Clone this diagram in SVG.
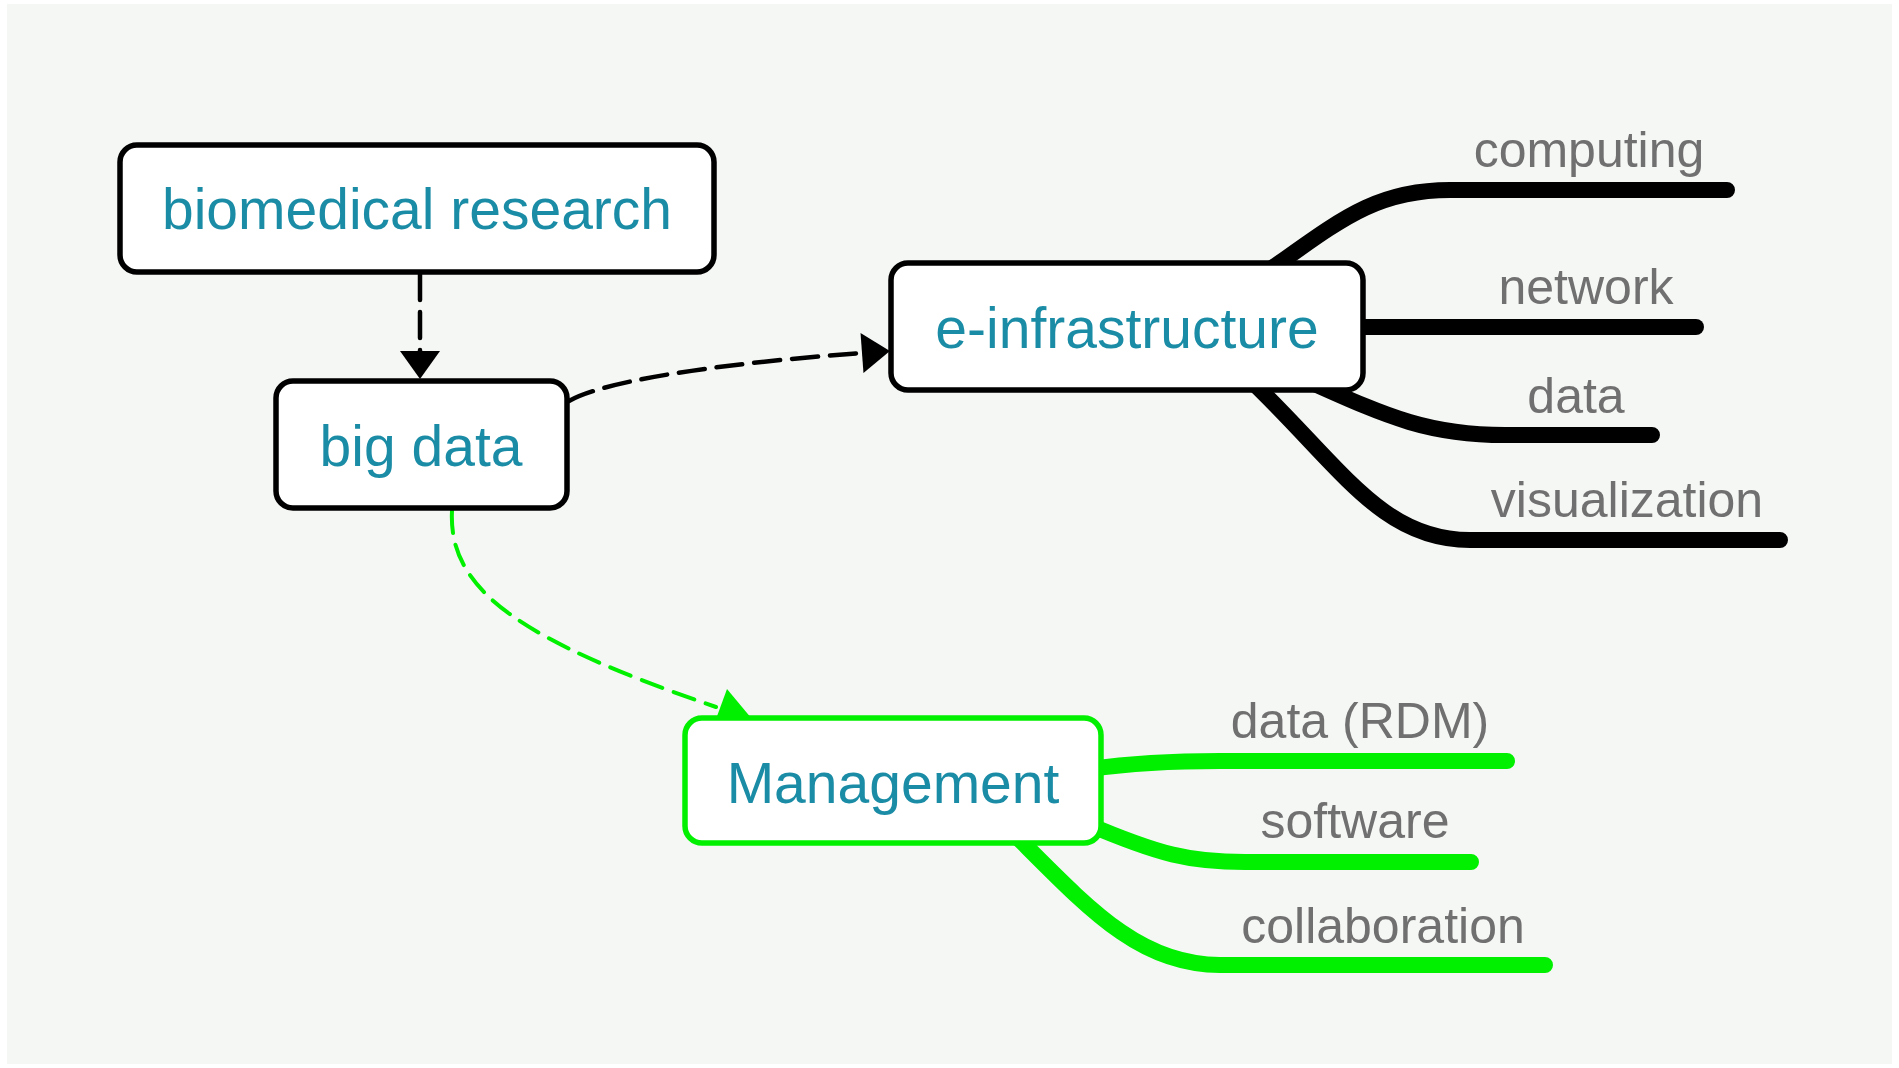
<svg xmlns="http://www.w3.org/2000/svg" width="1899" height="1068" viewBox="0 0 1899 1068">
  <defs>
    <style>
      .box { fill: #ffffff; stroke: #000000; stroke-width: 5.5; }
      .box.green { stroke: #00f000; }
      .ntxt { font-family: "Liberation Sans", Arial, sans-serif; font-size: 57px; fill: #1b8ca6; text-anchor: middle; }
      .ltxt { font-family: "Liberation Sans", Arial, sans-serif; font-size: 50px; fill: #707070; text-anchor: middle; }
      .br { fill: none; stroke: #000000; stroke-width: 16; stroke-linecap: round; }
      .br.green { stroke: #00f000; stroke-width: 16; }
      .dash { fill: none; stroke: #000000; stroke-width: 4.5; stroke-dasharray: 26 12; stroke-linecap: round; }
      .dash.green { stroke: #00f000; stroke-width: 4; stroke-dasharray: 22 12; }
    </style>
    <marker id="ah" markerUnits="userSpaceOnUse" markerWidth="28" markerHeight="40" viewBox="0 0 28 40" refX="0" refY="20" orient="auto" overflow="visible">
      <path d="M0,0 L28,20 L0,40 Z" fill="#000000"/>
    </marker>
  </defs>

  <rect x="0" y="0" width="1899" height="1068" fill="#ffffff"/>
  <rect x="7" y="4" width="1885" height="1060" fill="#f5f7f4"/>

  <g id="connectors">
    <!-- e-infrastructure branches -->
    <path class="br" d="M1255,280 C1335,225 1370,190 1450,190 H1727"/>
    <path class="br" d="M1340,327 H1696"/>
    <path class="br" d="M1310,382 C1390,418 1430,435 1505,435 H1652"/>
    <path class="br" d="M1245,375 C1340,465 1380,540 1470,540 H1780"/>
    <!-- Management branches -->
    <path class="br green" d="M1090,769 C1140,762 1180,761 1220,761 H1507"/>
    <path class="br green" d="M1085,823 C1160,855 1190,862 1245,862 H1471"/>
    <path class="br green" d="M1015,835 C1090,910 1140,965 1220,965 H1545"/>
    <!-- dashed relations -->
    <path class="dash" d="M420,274 L420,351" marker-end="url(#ah)"/>
    <path class="dash" d="M569,401 C610,378 740,362 862,353" marker-end="url(#ah)"/>
    <path class="dash green" d="M452,511 C448,590 520,640 716,707"/>
    <polygon points="727,689 752,719 716,719" fill="#00f000"/>
  </g>

  <g id="node-biomedical-research">
    <rect class="box" x="120" y="145" width="594" height="127" rx="17" ry="17"/>
    <text class="ntxt" x="417" y="229">biomedical research</text>
  </g>

  <g id="node-big-data">
    <rect class="box" x="276" y="381" width="291" height="127" rx="17" ry="17"/>
    <text class="ntxt" x="421" y="466">big data</text>
  </g>

  <g id="node-e-infrastructure">
    <rect class="box" x="891" y="263" width="472" height="127" rx="17" ry="17"/>
    <text class="ntxt" x="1127" y="348">e-infrastructure</text>
  </g>

  <g id="node-management">
    <rect class="box green" x="685" y="718" width="416" height="125" rx="17" ry="17"/>
    <text class="ntxt" x="893" y="803">Management</text>
  </g>

  <g id="node-computing"><text class="ltxt" x="1589" y="167">computing</text></g>
  <g id="node-network"><text class="ltxt" x="1586" y="304">network</text></g>
  <g id="node-data"><text class="ltxt" x="1576" y="413">data</text></g>
  <g id="node-visualization"><text class="ltxt" x="1627" y="517">visualization</text></g>
  <g id="node-data-rdm"><text class="ltxt" x="1360" y="738">data (RDM)</text></g>
  <g id="node-software"><text class="ltxt" x="1355" y="838">software</text></g>
  <g id="node-collaboration"><text class="ltxt" x="1383" y="943">collaboration</text></g>
</svg>
